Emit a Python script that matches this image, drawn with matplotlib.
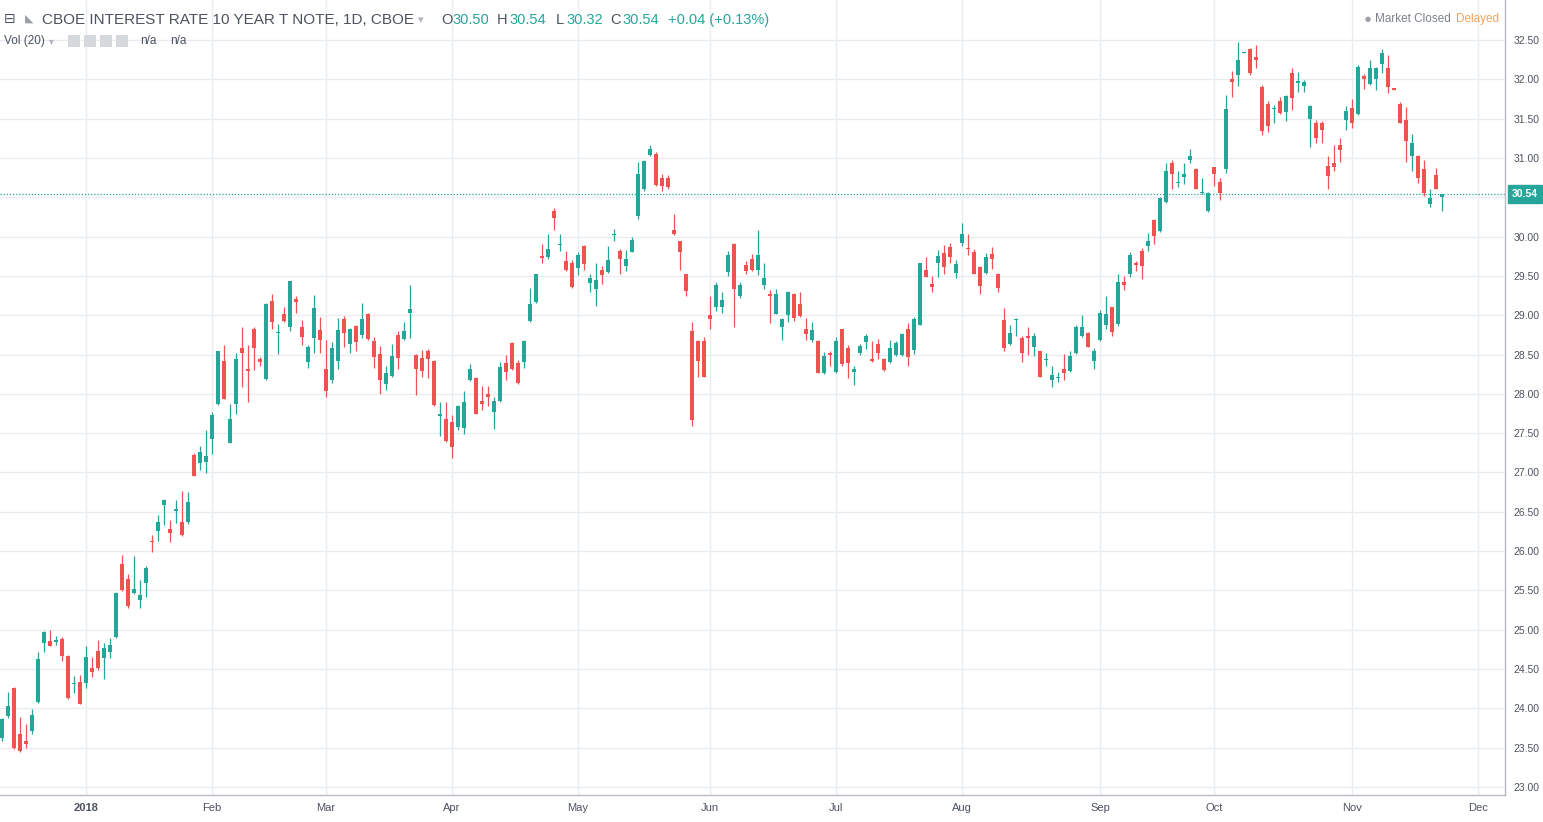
import numpy as np
import matplotlib
matplotlib.use("Agg")
import matplotlib.pyplot as plt
import matplotlib.patches as mpatches
import matplotlib.transforms as mtransforms

plt.rcParams['font.family'] = ['Liberation Sans', 'DejaVu Sans']

# daily OHLC, one row per trading day (index 0 = mid Dec 2017, last = 23 Nov 2018)
opens = [23.62, 23.90, 24.26, 23.68, 23.58, 23.71, 24.08, 24.83, 24.86, 24.85,
         24.88, 24.67, 24.31, 24.33, 24.32, 24.51, 24.73, 24.64, 24.72, 24.91,
         25.84, 25.64, 25.47, 25.38, 25.60, 26.13, 26.26, 26.58, 26.28, 26.51,
         26.37, 26.37, 27.22, 27.12, 27.13, 27.43, 27.87, 28.42, 27.38, 27.87,
         28.58, 28.32, 28.82, 28.44, 28.19, 29.18, 28.77, 29.02, 28.85, 29.21,
         28.85, 28.41, 28.71, 28.81, 28.32, 28.17, 28.42, 28.95, 28.63, 28.86,
         28.75, 29.01, 28.67, 28.51, 28.13, 28.23, 28.75, 28.70, 29.03, 28.50,
         28.45, 28.54, 28.42, 27.72, 27.68, 27.64, 27.58, 27.57, 28.17, 28.20,
         27.91, 28.00, 27.77, 27.91, 28.39, 28.65, 28.39, 28.40, 28.93, 29.17,
         29.75, 29.74, 30.33, 29.89, 29.69, 29.66, 29.60, 29.88, 29.41, 29.33,
         29.57, 29.55, 30.02, 29.82, 29.62, 29.81, 30.26, 30.60, 31.04, 31.05,
         30.74, 30.74, 30.08, 29.94, 29.52, 28.80, 28.67, 28.67, 29.00, 29.11,
         29.11, 29.55, 29.91, 29.24, 29.64, 29.71, 29.57, 29.39, 29.27, 29.02,
         28.85, 29.00, 29.27, 29.14, 28.82, 28.68, 28.67, 28.26, 28.52, 28.28,
         28.82, 28.58, 28.28, 28.52, 28.66, 28.44, 28.64, 28.44, 28.40, 28.50,
         28.49, 28.82, 28.56, 28.88, 29.58, 29.40, 29.67, 29.79, 29.87, 29.54,
         29.92, 29.86, 29.80, 29.61, 29.54, 29.78, 29.53, 28.94, 28.64, 28.94,
         28.71, 28.74, 28.59, 28.54, 28.43, 28.18, 28.20, 28.32, 28.29, 28.52,
         28.73, 28.77, 28.42, 28.68, 28.88, 29.10, 28.89, 29.42, 29.52, 29.66,
         29.82, 29.88, 30.21, 30.07, 30.44, 30.94, 30.68, 30.76, 30.97, 30.86,
         30.55, 30.32, 30.88, 30.69, 30.86, 32.01, 32.05, 32.33, 32.39, 32.29,
         31.90, 31.69, 31.62, 31.73, 31.59, 32.08, 31.95, 31.91, 31.49, 31.45,
         31.44, 30.90, 30.94, 31.17, 31.48, 31.64, 31.56, 32.04, 31.94, 32.01,
         32.20, 32.14, 31.88, 31.69, 31.48, 31.02, 31.03, 30.86, 30.41, 30.78,
         30.50]
highs = [23.88, 24.21, 24.27, 23.89, 23.80, 23.99, 24.72, 24.99, 25.00, 24.92,
         24.91, 24.68, 24.41, 24.42, 24.79, 24.65, 24.87, 24.83, 24.89, 25.48,
         25.95, 25.71, 25.94, 25.63, 25.81, 26.20, 26.46, 26.66, 26.40, 26.65,
         26.77, 26.75, 27.25, 27.34, 27.54, 27.77, 28.55, 28.62, 27.87, 28.52,
         28.85, 28.62, 28.85, 28.47, 29.15, 29.27, 28.89, 29.10, 29.44, 29.25,
         28.94, 28.62, 29.26, 28.98, 28.68, 28.66, 28.97, 28.99, 28.84, 28.87,
         29.15, 29.03, 28.72, 28.61, 28.36, 28.64, 28.80, 28.92, 29.38, 28.51,
         28.56, 28.57, 28.43, 27.90, 27.90, 27.73, 27.86, 28.04, 28.38, 28.21,
         28.10, 28.10, 27.96, 28.40, 28.50, 28.66, 28.43, 28.68, 29.35, 29.53,
         29.90, 30.03, 30.36, 30.03, 29.82, 29.70, 29.80, 29.89, 29.53, 29.66,
         29.62, 29.88, 30.10, 29.84, 29.83, 29.99, 30.95, 30.98, 31.16, 31.08,
         30.80, 30.78, 30.29, 29.95, 29.53, 28.92, 28.68, 28.72, 29.24, 29.42,
         29.30, 29.82, 29.92, 29.42, 29.69, 29.78, 30.09, 29.66, 29.32, 29.33,
         28.96, 29.31, 29.28, 29.29, 28.96, 28.91, 28.68, 28.53, 28.54, 28.72,
         28.83, 28.62, 28.36, 28.63, 28.76, 28.67, 28.70, 28.46, 28.68, 28.67,
         28.77, 28.90, 28.98, 29.67, 29.74, 29.50, 29.83, 29.89, 29.92, 29.70,
         30.17, 30.03, 29.84, 29.62, 29.79, 29.87, 29.54, 29.09, 28.88, 28.96,
         28.73, 28.85, 28.77, 28.55, 28.52, 28.35, 28.28, 28.51, 28.55, 28.87,
         29.00, 28.79, 28.58, 29.06, 29.25, 29.11, 29.52, 29.50, 29.80, 29.69,
         29.85, 30.04, 30.22, 30.50, 30.94, 30.97, 30.83, 30.93, 31.12, 30.87,
         30.75, 30.57, 30.89, 30.74, 31.80, 32.10, 32.48, 32.35, 32.40, 32.44,
         31.93, 31.73, 31.67, 31.78, 31.80, 32.15, 32.09, 31.99, 31.67, 31.48,
         31.47, 31.03, 31.17, 31.25, 31.66, 31.75, 32.18, 32.07, 32.25, 32.16,
         32.39, 32.31, 31.88, 31.71, 31.65, 31.30, 31.04, 30.97, 30.61, 30.87,
         30.54]
lows = [23.58, 23.88, 23.48, 23.45, 23.50, 23.68, 24.07, 24.72, 24.79, 24.81,
        24.60, 24.12, 24.19, 24.05, 24.26, 24.40, 24.49, 24.37, 24.64, 24.90,
        25.49, 25.27, 25.45, 25.27, 25.42, 25.99, 26.13, 26.33, 26.12, 26.36,
        26.19, 26.35, 26.95, 27.03, 26.99, 27.23, 27.86, 27.93, 27.37, 27.74,
        28.09, 27.89, 28.30, 28.36, 28.18, 28.82, 28.51, 28.91, 28.80, 29.03,
        28.62, 28.33, 28.52, 28.52, 27.96, 28.14, 28.32, 28.60, 28.52, 28.55,
        28.71, 28.69, 28.33, 28.00, 28.05, 28.22, 28.31, 28.69, 28.71, 27.99,
        28.21, 28.20, 27.85, 27.46, 27.39, 27.18, 27.54, 27.49, 28.16, 27.74,
        27.80, 27.85, 27.55, 27.90, 28.18, 28.30, 28.13, 28.33, 28.92, 29.15,
        29.66, 29.72, 30.09, 29.82, 29.56, 29.35, 29.51, 29.58, 29.29, 29.12,
        29.40, 29.54, 29.95, 29.53, 29.56, 29.80, 30.23, 30.58, 31.02, 30.64,
        30.58, 30.60, 30.02, 29.57, 29.24, 27.59, 28.22, 28.21, 28.82, 29.05,
        29.03, 29.50, 28.85, 29.22, 29.53, 29.56, 29.51, 29.33, 28.90, 29.01,
        28.69, 28.91, 28.93, 28.98, 28.69, 28.66, 28.26, 28.25, 28.35, 28.27,
        28.36, 28.20, 28.11, 28.49, 28.57, 28.40, 28.44, 28.29, 28.39, 28.48,
        28.48, 28.35, 28.51, 28.87, 29.48, 29.29, 29.48, 29.53, 29.67, 29.47,
        29.88, 29.76, 29.52, 29.27, 29.53, 29.59, 29.30, 28.54, 28.62, 28.73,
        28.41, 28.49, 28.48, 28.21, 28.35, 28.09, 28.15, 28.18, 28.28, 28.51,
        28.72, 28.59, 28.31, 28.67, 28.83, 28.73, 28.86, 29.32, 29.49, 29.56,
        29.46, 29.82, 29.91, 30.06, 30.43, 30.61, 30.63, 30.67, 30.94, 30.60,
        30.54, 30.31, 30.64, 30.47, 30.81, 31.78, 31.91, 32.33, 32.05, 32.14,
        31.29, 31.33, 31.45, 31.56, 31.47, 31.61, 31.84, 31.84, 31.14, 31.19,
        31.19, 30.61, 30.83, 30.95, 31.36, 31.38, 31.55, 31.88, 31.93, 31.86,
        32.08, 31.82, 31.87, 31.44, 30.95, 30.83, 30.68, 30.52, 30.37, 30.60,
        30.32]
closes = [23.86, 24.03, 23.50, 23.46, 23.55, 23.92, 24.63, 24.97, 24.79, 24.86,
          24.67, 24.13, 24.32, 24.05, 24.65, 24.46, 24.51, 24.77, 24.81, 25.47,
          25.50, 25.30, 25.52, 25.44, 25.79, 26.11, 26.37, 26.65, 26.23, 26.54,
          26.20, 26.62, 26.96, 27.26, 27.21, 27.73, 28.54, 27.94, 27.68, 28.44,
          28.52, 28.29, 28.58, 28.40, 29.14, 28.91, 28.78, 28.93, 29.43, 29.17,
          28.72, 28.59, 29.09, 28.68, 28.04, 28.58, 28.81, 28.77, 28.83, 28.66,
          28.95, 28.70, 28.47, 28.17, 28.26, 28.48, 28.45, 28.80, 29.08, 28.32,
          28.29, 28.44, 27.86, 27.75, 27.40, 27.32, 27.85, 27.89, 28.32, 27.75,
          27.87, 27.96, 27.91, 28.34, 28.28, 28.32, 28.14, 28.67, 29.14, 29.52,
          29.73, 29.84, 30.24, 29.90, 29.57, 29.36, 29.77, 29.65, 29.47, 29.45,
          29.51, 29.70, 30.03, 29.71, 29.71, 29.96, 30.80, 30.96, 31.12, 30.66,
          30.64, 30.63, 30.03, 29.81, 29.31, 27.67, 28.42, 28.22, 28.95, 29.38,
          29.19, 29.76, 29.33, 29.38, 29.56, 29.57, 29.77, 29.47, 29.25, 29.27,
          28.95, 29.29, 28.97, 28.99, 28.76, 28.81, 28.27, 28.48, 28.49, 28.67,
          28.38, 28.39, 28.31, 28.61, 28.74, 28.42, 28.52, 28.30, 28.58, 28.65,
          28.76, 28.47, 28.95, 29.66, 29.49, 29.36, 29.75, 29.61, 29.74, 29.65,
          30.03, 29.84, 29.53, 29.37, 29.74, 29.71, 29.35, 28.58, 28.77, 28.95,
          28.52, 28.71, 28.74, 28.22, 28.44, 28.24, 28.21, 28.26, 28.48, 28.85,
          28.85, 28.60, 28.54, 29.03, 29.02, 28.79, 29.42, 29.38, 29.77, 29.64,
          29.63, 29.94, 30.01, 30.49, 30.83, 30.79, 30.69, 30.80, 31.02, 30.61,
          30.56, 30.56, 30.80, 30.56, 31.62, 31.96, 32.25, 32.34, 32.08, 32.25,
          31.34, 31.41, 31.63, 31.57, 31.79, 31.76, 31.98, 31.96, 31.66, 31.25,
          31.36, 30.77, 30.88, 31.10, 31.60, 31.45, 32.16, 32.01, 32.15, 32.15,
          32.34, 31.90, 31.87, 31.45, 31.21, 31.19, 30.74, 30.56, 30.49, 30.61,
          30.54]

# first trading day of each month, as bar index
month_idx = [14, 35, 54, 75, 96, 118, 139, 160, 183, 202, 225, 246]
month_labels = ['2018', 'Feb', 'Mar', 'Apr', 'May', 'Jun', 'Jul', 'Aug',
                'Sep', 'Oct', 'Nov', 'Dec']
price_ticks = np.arange(23.0, 32.51, 0.5)
last_price = 30.54

up_col = '#26a69a'
down_col = '#ef5350'
text_col = '#4c525e'
grid_col = '#e9edf0'

W, H = 1543, 822
fig = plt.figure(figsize=(W / 100, H / 100), dpi=100)
ax = fig.add_axes([0, 27 / H, 1505 / W, 795 / H])

o = np.array(opens)
h = np.array(highs)
l = np.array(lows)
c = np.array(closes)
x = np.arange(len(o))
cols = np.where(c >= o, up_col, down_col)

ax.vlines(x, l, h, colors=cols, linewidth=0.9, zorder=3)
body_bot = np.minimum(o, c)
body_h = np.maximum(np.abs(c - o), 0.014)
ax.bar(x, body_h, bottom=body_bot, width=0.68, color=cols, linewidth=0, zorder=4)

ax.set_xlim(-0.33, 250.5)
ax.set_ylim(22.898, 33.009)

ax.set_xticks(month_idx)
ax.set_xticklabels(month_labels)
ax.get_xticklabels()[0].set_fontweight('bold')
ax.set_yticks(price_ticks)
# the 30.50 label sits under the last-price box, as in the original
ax.set_yticklabels(['' if abs(v - 30.5) < 1e-6 else f'{v:.2f}' for v in price_ticks])
ax.yaxis.tick_right()
ax.tick_params(axis='both', length=0, colors=text_col)
ax.tick_params(axis='x', pad=6, labelsize=8)
ax.tick_params(axis='y', pad=6, labelsize=7.5)
ax.grid(True, color=grid_col, linewidth=1, zorder=0)
ax.set_axisbelow(True)
for s in ['top', 'left']:
    ax.spines[s].set_visible(False)
for s in ['right', 'bottom']:
    ax.spines[s].set_color('#b8bcc2')
    ax.spines[s].set_linewidth(1)

# last price line and label
ax.axhline(last_price, color=up_col, linestyle=(0, (1, 1.5)), linewidth=0.9, zorder=2)
trans = mtransforms.blended_transform_factory(ax.transAxes, ax.transData)
ax.text(1.0045, last_price, f'{last_price:.2f}', transform=trans, ha='left', va='center',
        fontsize=7.5, fontweight='bold', color='white', clip_on=False,
        bbox=dict(boxstyle='square,pad=0.4', fc=up_col, ec=up_col))

# header legend
def px(xp, yp):
    return xp / W, 1 - yp / H

fig.text(*px(4, 19), '\u229f', fontsize=10, color=text_col, va='center', family=['DejaVu Sans'])
fig.text(*px(25, 19), '\u25e3', fontsize=8, color='#9aa0a8', va='center', family=['DejaVu Sans'])
fig.text(*px(42, 20), 'CBOE INTEREST RATE 10 YEAR T NOTE, 1D, CBOE', fontsize=11,
         color=text_col, va='center')
fig.text(*px(418, 20), '\u25be', fontsize=8, color='#b0b4ba', va='center', family=['DejaVu Sans'])
ohlc = [('O', 441, '30.50', 452), ('H', 497, '30.54', 509),
        ('L', 556, '30.32', 566), ('C', 610, '30.54', 622)]
for lab, lx, val, vx in ohlc:
    fig.text(*px(lx, 20), lab, fontsize=10.5, color=text_col, va='center')
    fig.text(*px(vx, 20), val, fontsize=10.5, color=up_col, va='center')
fig.text(*px(668, 20), '+0.04 (+0.13%)', fontsize=10.5, color=up_col, va='center')

fig.text(*px(4, 41), 'Vol (20)', fontsize=8.5, color=text_col, va='center')
fig.text(*px(49, 41), '\u25be', fontsize=7, color='#b0b4ba', va='center', family=['DejaVu Sans'])
for bx in [68, 84, 100, 116]:
    fig.patches.append(mpatches.Rectangle(px(bx, 47), 12 / W, 12 / H, transform=fig.transFigure,
                                          facecolor='#d5d8dc', edgecolor='none'))
fig.text(*px(140, 41), 'n/a', fontsize=8.5, color=text_col, va='center')
fig.text(*px(170, 41), 'n/a', fontsize=8.5, color=text_col, va='center')

fig.text(*px(1365, 19), '\u25cf', fontsize=5, color='#9aa0a8', va='center', family=['DejaVu Sans'])
fig.text(*px(1375, 19), 'Market Closed', fontsize=8.5, color='#7d828a', va='center')
fig.text(*px(1456, 19), 'Delayed', fontsize=8.5, color='#f0a35a', va='center')

fig.savefig('out.png', dpi=100, facecolor='white')
